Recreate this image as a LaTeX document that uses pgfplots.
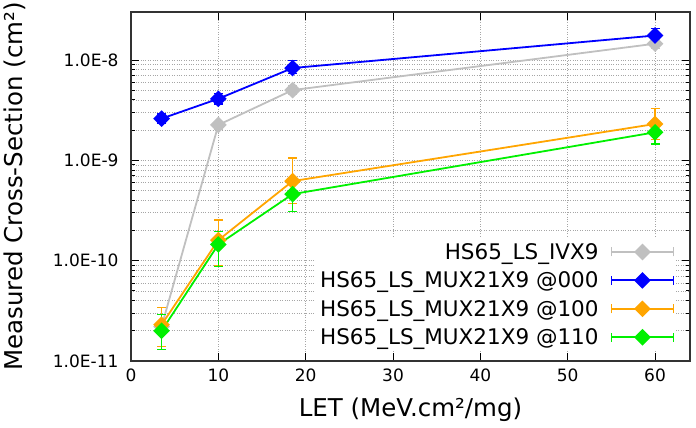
\documentclass[border=0pt]{standalone}
\usepackage{pgfplots}
\pgfplotsset{compat=1.18}
\usepackage{fontspec}
\setmainfont{DejaVu Sans}
\definecolor{cgray}{RGB}{192,192,192}
\definecolor{cblue}{RGB}{0,0,255}
\definecolor{corange}{RGB}{255,165,0}
\definecolor{cgreen}{RGB}{0,240,0}
\begin{document}
\begin{tikzpicture}
\begin{axis}[
  scale only axis, width=559pt, height=349pt,
  xmin=0, xmax=64, ymode=log, ymin=1e-11, ymax=3e-8,
  xtick={0,10,...,60},
  ytick={1e-11,1e-10,1e-9,1e-8},
  yticklabels={1.0E-11,1.0E-10,1.0E-9,1.0E-8},
  /pgf/number format/assume math mode=true,
  tick label style={font=\fontsize{17}{17}\selectfont},
  xticklabel style={yshift=-4pt},
  yticklabel style={xshift=-9pt},
  label style={font=\fontsize{24.5}{24.5}\selectfont},
  xlabel={LET (MeV.cm²/mg)},
  ylabel={Measured Cross-Section (cm²)},
  xlabel style={at={(axis description cs:0.5,-0.140)}, anchor=center},
  ylabel style={at={(axis description cs:-0.208,0.5)}, anchor=center},
  grid=both,
  major grid style={dotted, black!35, line width=0.6pt},
  minor grid style={dotted, black!35, line width=0.6pt},
  major tick length=8pt, minor tick length=4pt,
  tick style={black, line width=0.8pt},
  axis line style={black!80, line width=1.2pt},
  error bars/y dir=both, error bars/y explicit,
  error bars/error bar style={line width=1.4pt},
  error bars/error mark options={rotate=90, mark size=4.5pt, line width=1.4pt},
  every axis plot/.append style={line width=1.8pt, mark=square*, mark size=5pt, mark options={rotate=45}},
  legend cell align=right,
  legend plot pos=right,
  legend style={draw=none, fill=white, at={(0.976,0.028)}, anchor=south east,
    font=\fontsize{21.5}{21.5}\selectfont, row sep=7pt, inner xsep=2pt, inner ysep=3pt},
  legend image code/.code={
    \path (0pt,0pt);
    \draw[#1, mark=none] (10pt,0pt) -- (72pt,0pt);
    \draw[#1, mark=none] (10pt,-4.5pt) -- (10pt,4.5pt);
    \draw[#1, mark=none] (72pt,-4.5pt) -- (72pt,4.5pt);
    \draw[#1] plot coordinates {(41pt,0pt)};
  },
]
\addplot[cgray] table[x=x, y=y, y error plus=ep, y error minus=em] {
x y ep em
3.5 2.2e-11 0.2e-11 0.2e-11
10 2.25e-9 0.2e-9 0.2e-9
18.5 5.0e-9 0.5e-9 0.5e-9
60 1.45e-8 0.15e-8 0.15e-8
};
\addlegendentry{HS65\_LS\_IVX9}
\addplot[cblue] table[x=x, y=y, y error plus=ep, y error minus=em] {
x y ep em
3.5 2.6e-9 0.3e-9 0.25e-9
10 4.1e-9 0.5e-9 0.45e-9
18.5 8.3e-9 1.6e-9 1.0e-9
60 1.75e-8 0.3e-8 0.25e-8
};
\addlegendentry{HS65\_LS\_MUX21X9 @000}
\addplot[corange] table[x=x, y=y, y error plus=ep, y error minus=em] {
x y ep em
3.5 2.3e-11 1.1e-11 0.9e-11
10 1.6e-10 0.95e-10 0.7e-10
18.5 6.2e-10 4.3e-10 2.5e-10
60 2.3e-9 1.0e-9 0.7e-9
};
\addlegendentry{HS65\_LS\_MUX21X9 @100}
\addplot[cgreen] table[x=x, y=y, y error plus=ep, y error minus=em] {
x y ep em
3.5 2.0e-11 0.9e-11 0.7e-11
10 1.45e-10 0.5e-10 0.57e-10
18.5 4.6e-10 1.6e-10 1.5e-10
60 1.9e-9 0.55e-9 0.45e-9
};
\addlegendentry{HS65\_LS\_MUX21X9 @110}
\end{axis}
\pgfresetboundingbox
\path (-131pt,-67pt) rectangle (565pt,361pt);
\end{tikzpicture}
\end{document}
